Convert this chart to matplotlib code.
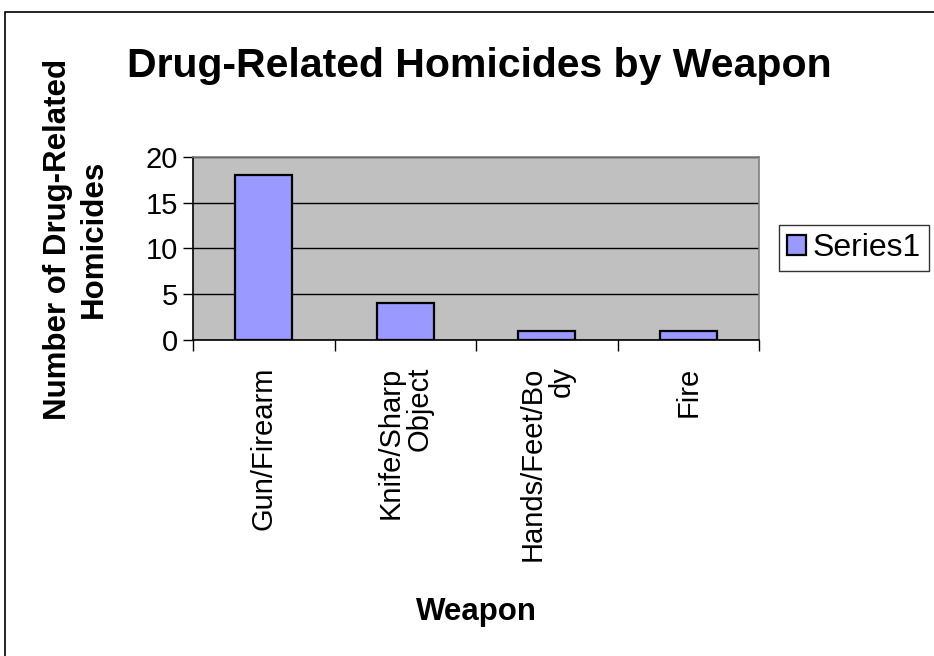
import matplotlib
matplotlib.use("Agg")
import matplotlib.pyplot as plt
from matplotlib.patches import Rectangle

plt.rcParams['font.family'] = ['Liberation Sans', 'DejaVu Sans']

weapons = ['Gun/Firearm', 'Knife/Sharp\nObject', 'Hands/Feet/Bo\ndy', 'Fire']
homicides = [18, 4, 1, 1]
y_ticks = [0, 5, 10, 15, 20]

W, H = 934, 656
fig = plt.figure(figsize=(W / 100, H / 100), dpi=100)

# outer chart frame, running off the right and bottom edges
fig.add_artist(Rectangle((5 / W, -0.05), 1.1, 1 - 12 / H + 0.05,
                         transform=fig.transFigure, fill=False,
                         edgecolor='black', linewidth=1.2))

ax = fig.add_axes([193 / W, 1 - 340 / H, (759 - 193) / W, (340 - 157) / H])
ax.set_facecolor('#C0C0C0')

x = range(len(weapons))
ax.bar(x, homicides, width=0.4, color='#9999FF', edgecolor='black',
       linewidth=1.6, zorder=3, label='Series1')

ax.set_xlim(-0.5, len(weapons) - 0.5)
ax.set_ylim(0, 20)
ax.set_yticks(y_ticks)
ax.set_yticklabels([str(v) for v in y_ticks], fontsize=21)
ax.grid(axis='y', color='black', linewidth=1, zorder=1)

# category boundary ticks, labels centred between them
ax.set_xticks([i - 0.5 for i in range(len(weapons) + 1)])
ax.set_xticklabels([])
ax.set_xticks(list(x), minor=True)
ax.set_xticklabels(weapons, minor=True, rotation=90, fontsize=21,
                   va='top', ha='center', multialignment='right',
                   linespacing=1.05)
ax.tick_params(axis='x', which='minor', length=0, pad=19)
ax.tick_params(axis='x', which='major', length=8, width=1, direction='out')
ax.tick_params(axis='y', length=7, width=1, direction='out', pad=4)

for s in ax.spines.values():
    s.set_color('#808080')
    s.set_linewidth(1.2)
ax.spines['bottom'].set_color('black')
ax.spines['left'].set_color('black')

fig.text(479 / W, 1 - 66 / H, 'Drug-Related Homicides by Weapon',
         ha='center', va='center', fontsize=29.5, fontweight='bold')
fig.text(476 / W, 1 - 612 / H, 'Weapon', ha='center', va='center',
         fontsize=22.5, fontweight='bold')
fig.text(76 / W, 1 - 239 / H, 'Number of Drug-Related\nHomicides',
         ha='center', va='center', rotation=90, fontsize=22.5,
         fontweight='bold', multialignment='center', linespacing=1.25)

leg = ax.legend(loc='center left', bbox_to_anchor=(779 / W, 1 - 248 / H),
                bbox_transform=fig.transFigure, fontsize=23, frameon=True,
                fancybox=False, edgecolor='black', handlelength=0.6,
                handleheight=0.6, handletextpad=0.2, borderpad=0.25,
                borderaxespad=0)
leg.get_frame().set_linewidth(1)

fig.savefig('out.png', dpi=100, facecolor='white')
